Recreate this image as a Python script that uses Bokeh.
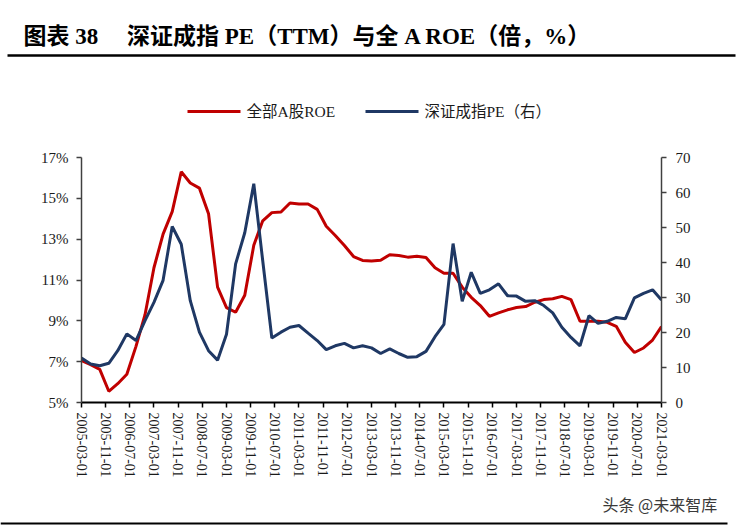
import pandas as pd
from bokeh.plotting import figure
from bokeh.layouts import column
from bokeh.models import (Range1d, LinearAxis, FixedTicker, PrintfTickFormatter,
                          DatetimeTickFormatter, ColumnDataSource)
from bokeh.core.properties import value
from bokeh.embed import file_html
from bokeh.resources import INLINE

# Quarterly observations, 2005-03 .. 2021-03
quarters = pd.date_range("2005-03-01", "2021-03-01", freq="3MS")

# 全部A股ROE (%)
roe = [7.05, 6.85, 6.62, 5.55, 5.92, 6.38, 7.75, 9.30, 11.60, 13.25,
       14.35, 16.30, 15.75, 15.50, 14.25, 10.65, 9.65, 9.42, 10.25, 12.70,
       13.90, 14.30, 14.33, 14.77, 14.72, 14.72, 14.46, 13.63, 13.18, 12.69,
       12.15, 11.96, 11.93, 11.97, 12.24, 12.20, 12.12, 12.16, 12.10, 11.60,
       11.33, 11.33, 10.65, 10.15, 9.75, 9.22, 9.39, 9.54, 9.65, 9.70,
       9.91, 10.04, 10.08, 10.20, 10.04, 8.98, 8.98, 8.98, 8.93, 8.73,
       7.95, 7.45, 7.67, 8.06, 8.72]

# 深证成指PE (TTM, 倍)
pe = [12.7, 11.0, 10.5, 11.2, 14.8, 19.6, 17.7, 23.4, 28.6, 34.9,
      50.3, 45.2, 29.1, 20.1, 14.8, 12.1, 19.5, 39.6, 48.5, 62.5,
      40.5, 18.4, 20.1, 21.5, 22.0, 19.8, 17.7, 15.1, 16.2, 16.9,
      15.6, 16.2, 15.6, 14.0, 15.3, 14.0, 12.9, 13.1, 14.6, 18.8,
      22.3, 45.4, 28.9, 37.2, 31.2, 32.2, 33.9, 30.5, 30.4, 28.9,
      29.1, 27.7, 25.6, 21.5, 18.6, 16.2, 24.8, 22.6, 23.2, 24.3,
      23.9, 29.9, 31.2, 32.2, 29.3]

tick_labels = ["2005-03-01", "2005-11-01", "2006-07-01", "2007-03-01", "2007-11-01",
               "2008-07-01", "2009-03-01", "2009-11-01", "2010-07-01", "2011-03-01",
               "2011-11-01", "2012-07-01", "2013-03-01", "2013-11-01", "2014-07-01",
               "2015-03-01", "2015-11-01", "2016-07-01", "2017-03-01", "2017-11-01",
               "2018-07-01", "2019-03-01", "2019-11-01", "2020-07-01", "2021-03-01"]
roe_ticks = [5, 7, 9, 11, 13, 15, 17]
pe_ticks = [0, 10, 20, 30, 40, 50, 60, 70]

title_text = "图表 38\u3000 深证成指 PE（TTM）与全 A ROE（倍，%）"
legend_names = ["全部A股ROE", "深证成指PE（右）"]
source_note = "头条 @未来智库"

RED = "#C00000"
NAVY = "#1F3864"
INK = "#1a1a1a"
SERIF = "'Liberation Serif', 'Noto Sans CJK SC'"
CJK = "'Noto Sans CJK SC'"

W = 756
HEAD_H = 140          # header strip: heading and legend
MAIN_H = 345          # chart with its axes
FOOT_H = 43           # footer strip
FL, FR = 81, 661      # frame left / right on the canvas
TOP_PAD, FRAME_H = 17, 245


def strip(height, y_top):
    """A plain drawing strip whose data units equal canvas pixels (y downward)."""
    f = figure(width=W, height=height, output_backend="svg", toolbar_location=None,
               x_range=Range1d(0, W), y_range=Range1d(y_top + height, y_top),
               x_axis_location=None, y_axis_location=None, min_border=0)
    f.frame_align = False
    f.outline_line_color = None
    f.xgrid.visible = False
    f.ygrid.visible = False
    return f


# ---- header: heading, rule, legend ----
head = strip(HEAD_H, 0)
head.text(x=[23], y=[36], text=[title_text], text_font=value(SERIF),
          text_font_size="23px", text_font_style="bold", text_color="black",
          text_baseline="middle", text_align="left")
head.segment(x0=[7], y0=[55], x1=[735], y1=[55], line_color="black", line_width=2.5)
head.segment(x0=[187, 365], y0=[111, 111], x1=[240, 418], y1=[111, 111],
             line_color=[RED, NAVY], line_width=3)
head.text(x=[246, 424], y=[111, 111], text=legend_names, text_font=value(SERIF),
          text_font_size="15.5px", text_color=INK,
          text_baseline="middle", text_align="left")

# ---- main chart ----
src = ColumnDataSource(dict(date=quarters, roe=roe, pe=pe))

p = figure(width=W, height=MAIN_H, output_backend="svg", toolbar_location=None,
           x_axis_type="datetime",
           x_range=Range1d(quarters[0], quarters[-1]),
           y_range=Range1d(min(roe_ticks), max(roe_ticks)),
           min_border_left=FL, min_border_right=W - FR,
           min_border_top=TOP_PAD, min_border_bottom=MAIN_H - TOP_PAD - FRAME_H)
p.frame_align = False
p.extra_y_ranges = {"pe": Range1d(min(pe_ticks), max(pe_ticks))}
p.outline_line_color = None
p.xgrid.visible = False
p.ygrid.visible = False

p.line("date", "roe", source=src, color=RED, line_width=3)
p.line("date", "pe", source=src, color=NAVY, line_width=3, y_range_name="pe")

# bottom date axis
xa = p.xaxis[0]
tick_ms = [int(t.value // 10**6) for t in pd.to_datetime(tick_labels)]
xa.ticker = FixedTicker(ticks=tick_ms)
xa.formatter = DatetimeTickFormatter(days="%Y-%m-%d", months="%Y-%m-%d", years="%Y-%m-%d")
xa.major_label_orientation = "vertical"
xa.axis_line_color = "black"
xa.axis_line_width = 2
xa.major_tick_line_color = "black"
xa.major_tick_line_width = 1.5
xa.major_tick_in = 0
xa.major_tick_out = 5
xa.minor_tick_line_color = None
xa.major_label_text_font = SERIF
xa.major_label_text_font_size = "14px"
xa.major_label_text_color = INK
xa.major_label_standoff = 5

# left ROE axis
ya = p.yaxis[0]
ya.ticker = FixedTicker(ticks=roe_ticks)
ya.formatter = PrintfTickFormatter(format="%d%%")

# right PE axis
yr = LinearAxis(y_range_name="pe", ticker=FixedTicker(ticks=pe_ticks))
p.add_layout(yr, "right")

for ax in (ya, yr):
    ax.axis_line_color = "#404040"
    ax.axis_line_width = 1.5
    ax.major_tick_line_color = "#404040"
    ax.major_tick_line_width = 1.5
    ax.major_tick_in = 0
    ax.major_tick_out = 5
    ax.minor_tick_line_color = None
    ax.major_label_text_font = SERIF
    ax.major_label_text_font_size = "15px"
    ax.major_label_text_color = INK
ya.major_label_standoff = 8
yr.major_label_standoff = 9

# ---- footer: source note and closing rule ----
foot_top = HEAD_H + MAIN_H
foot = strip(FOOT_H, foot_top)
foot.text(x=[602], y=[503], text=[source_note], text_font=value(CJK),
          text_font_size="16px", text_color="#3a3a3a",
          text_baseline="middle", text_align="left")
foot.segment(x0=[0], y0=[523], x1=[727], y1=[523], line_color="black", line_width=2)

layout = column(head, p, foot, spacing=0)
open("out.html", "w").write(file_html(layout, INLINE))
